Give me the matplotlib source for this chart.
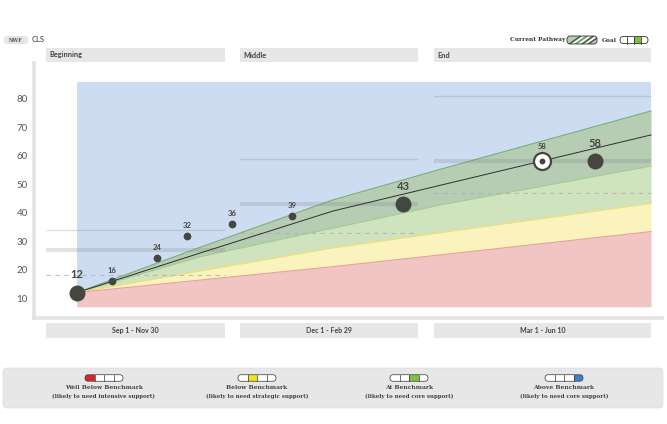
import matplotlib
matplotlib.use('Agg')
import matplotlib.pyplot as plt
from matplotlib.patches import FancyBboxPatch, Rectangle
import matplotlib.transforms as mtransforms

# ---------------- data ----------------
y_ticks = [10, 20, 30, 40, 50, 60, 70, 80]
period_labels = ['Sep 1 - Nov 30', 'Dec 1 - Feb 29', 'Mar 1 - Jun 10']
header_labels = ['Beginning', 'Middle', 'End']
header_segment = [0, 2, 2]
period_start_wk = [-2.2, 11.5, 25.2]
period_end_wk = [10.45, 24.05, 40.5]
bench_above = [34, 59, 81]
bench_at = [27, 43, 58]
bench_below = [18, 33, 47]

score_weeks = [0, 2.5, 5.65, 7.75, 10.95, 15.15, 23.0, 36.55]
score_values = [12, 16, 24, 32, 36, 39, 43, 58]
score_big = [True, False, False, False, False, False, True, True]
goal_week = 32.8
goal_value = 58

band_weeks = [0, 8.7, 18.05, 25.6, 40.5]
red_top = [12, 16.4, 21.1, 25.2, 33.4]
yellow_top = [12, 19.6, 27.7, 33.0, 43.3]
lgreen_top = [12, 24.6, 34.6, 42.7, 56.4]
dgreen_top = [12, 27.9, 44.5, 55.2, 75.7]
pathway = [12, 25.9, 40.6, 49.6, 67.3]
band_floor = 7
band_ceiling = 86

legend_titles = ['Well Below Benchmark', 'Below Benchmark', 'At Benchmark', 'Above Benchmark']
legend_notes = ['(likely to need intensive support)', '(likely to need strategic support)',
                '(likely to need core support)', '(likely to need core support)']
legend_colors = ['#d9262b', '#efe31f', '#7cc142', '#3f7fcb']

# ---------------- layout ----------------
W, H = 667, 424
PX_PER_WK = 14.173
X0_PX = 77
PX_PER_UNIT = 2.851
Y0_PX = 326.8
AX_L, AX_R, AX_T, AX_B = 34, 662, 63, 318

SANS = ['Lato', 'DejaVu Sans']
SLAB = ['DejaVu Serif']
DARK = '#454542'

fig = plt.figure(figsize=(W / 100, H / 100), dpi=100)
fig.patch.set_facecolor('white')

ov = fig.add_axes([0, 0, 1, 1], zorder=0)
ov.set_xlim(0, W)
ov.set_ylim(H, 0)
ov.axis('off')

ax = fig.add_axes([AX_L / W, (H - AX_B) / H, (AX_R - AX_L) / W, (AX_B - AX_T) / H], zorder=1)
ax.set_facecolor('none')
ax.set_xlim((AX_L - X0_PX) / PX_PER_WK, (AX_R - X0_PX) / PX_PER_WK)
ax.set_ylim((Y0_PX - AX_B) / PX_PER_UNIT, (Y0_PX - AX_T) / PX_PER_UNIT)

for s in ['top', 'right']:
    ax.spines[s].set_visible(False)
for s in ['left', 'bottom']:
    ax.spines[s].set_color('#e2e3e2')
    ax.spines[s].set_linewidth(2.6)
ax.set_xticks([])
ax.set_yticks(y_ticks)
ax.tick_params(axis='y', length=0, pad=4.5, labelsize=7, labelcolor='#555555')
for t in ax.get_yticklabels():
    t.set_fontfamily(SANS)

# bands
ax.fill_between([band_weeks[0], band_weeks[-1]], band_floor, band_ceiling, color='#cddcf1', lw=0, zorder=1)
ax.fill_between(band_weeks, lgreen_top, dgreen_top, color='#b6ccb3', lw=0, zorder=2)
ax.fill_between(band_weeks, yellow_top, lgreen_top, color='#d0e3bf', lw=0, zorder=2)
ax.fill_between(band_weeks, red_top, yellow_top, color='#faf3be', lw=0, zorder=2)
ax.fill_between(band_weeks, band_floor, red_top, color='#f2c5c5', lw=0, zorder=2)
ax.plot(band_weeks, dgreen_top, color='#74b071', lw=0.8, zorder=3)
ax.plot(band_weeks, lgreen_top, color='#a3d08b', lw=0.8, zorder=3)
ax.plot(band_weeks, yellow_top, color='#f1e070', lw=0.8, zorder=3)
ax.plot(band_weeks, red_top, color='#ec9d9d', lw=0.8, zorder=3)
ax.plot(band_weeks, pathway, color='#2e2e2e', lw=0.7, zorder=4)

# benchmark lines
for i in range(3):
    xs = [period_start_wk[i], period_end_wk[i]]
    ax.plot(xs, [bench_above[i]] * 2, color='#8a93a0', alpha=0.3, lw=1.0, zorder=3.5, solid_capstyle='butt')
    ax.plot(xs, [bench_at[i]] * 2, color='#7a7f85', alpha=0.22, lw=3.0, zorder=3.5, solid_capstyle='butt')
    ax.plot(xs, [bench_below[i]] * 2, color='#b0b0b0', alpha=0.8, lw=0.8, ls=(0, (4, 4)), zorder=3.5)

# scores
small = [i for i, b in enumerate(score_big) if not b]
big = [i for i, b in enumerate(score_big) if b]
ax.scatter([score_weeks[i] for i in small], [score_values[i] for i in small], s=31, color=DARK, lw=0, zorder=6)
ax.scatter([score_weeks[i] for i in big], [score_values[i] for i in big], s=132, color=DARK, lw=0, zorder=6)
for i, (wk, v) in enumerate(zip(score_weeks, score_values)):
    if score_big[i]:
        ax.annotate(str(v), (wk, v), xytext=(0, 9), textcoords='offset points', ha='center', va='bottom',
                    fontsize=8, fontweight='bold', color=DARK, family=SANS, zorder=7)
    else:
        ax.annotate(str(v), (wk, v), xytext=(0, 5), textcoords='offset points', ha='center', va='bottom',
                    fontsize=5.5, fontweight='bold', color=DARK, family=SANS, zorder=7)

# goal
ax.scatter([goal_week], [goal_value], s=150, facecolor='white', edgecolor=DARK, lw=1.6, zorder=6)
ax.scatter([goal_week], [goal_value], s=18, color=DARK, lw=0, zorder=7)
ax.annotate(str(goal_value), (goal_week, goal_value), xytext=(0, 8), textcoords='offset points',
            ha='center', va='bottom', fontsize=5.5, fontweight='bold', color=DARK, family=SANS, zorder=7)

# header and period bars (x in data, y in axes)
blend = mtransforms.blended_transform_factory(ax.transData, ax.transAxes)
ax_h = AX_B - AX_T


def yfrac(ypx):
    return (AX_B - ypx) / ax_h


def wk2px(wk):
    return X0_PX + wk * PX_PER_WK


def draw_toggle(a, x0, yc, w, h, seg, color, lw=0.6):
    box = FancyBboxPatch((x0, yc - h / 2), w, h, boxstyle=f"round,pad=0,rounding_size={h / 2}",
                         fc='white', ec='none', zorder=5)
    a.add_patch(box)
    sw = w / 4
    if seg is not None:
        r = Rectangle((x0 + seg * sw, yc - h / 2), sw, h, fc=color, ec='none', zorder=6)
        r.set_clip_path(box)
        a.add_patch(r)
    for k in range(1, 4):
        a.plot([x0 + k * sw] * 2, [yc - h / 2, yc + h / 2], color='#333333', lw=lw, zorder=7)
    a.add_patch(FancyBboxPatch((x0, yc - h / 2), w, h, boxstyle=f"round,pad=0,rounding_size={h / 2}",
                               fc='none', ec='#333333', lw=lw, zorder=8))


for i in range(3):
    x0, x1 = period_start_wk[i], period_end_wk[i]
    # header
    ax.add_patch(Rectangle((x0, yfrac(61.7)), x1 - x0, yfrac(48.3) - yfrac(61.7), transform=blend,
                           fc='#e6e7e6', ec='none', clip_on=False, zorder=2))
    ax.text(x0 + 3.5 / PX_PER_WK, yfrac(55), header_labels[i], transform=blend, ha='left', va='center',
            fontsize=5.3, fontweight='bold', color='#444444', family=SANS, clip_on=False)
    draw_toggle(ov, wk2px(x1) - 33, 55, 29, 8, header_segment[i], '#7cc142' if i else '#d9262b')
    # period
    ax.add_patch(Rectangle((x0, yfrac(337.7)), x1 - x0, yfrac(323.3) - yfrac(337.7), transform=blend,
                           fc='#e6e7e6', ec='none', clip_on=False, zorder=2))
    ax.text((x0 + x1) / 2, yfrac(330.5), period_labels[i], transform=blend, ha='center', va='center',
            fontsize=5.0, fontweight='bold', color='#444444', family=SANS, clip_on=False)

# top-left badge
ov.add_patch(FancyBboxPatch((4, 36), 24, 8, boxstyle="round,pad=0,rounding_size=4", fc='#e4e4e4', ec='none'))
ov.text(16, 40.2, 'NWF', ha='center', va='center', fontsize=3.6, fontweight='bold', color='#555555', family=SLAB)
ov.text(32, 40, 'CLS', ha='left', va='center', fontsize=5.5, color='#333333', family=SANS)

# top-right legend
ov.text(565, 40, 'Current Pathway', ha='right', va='center', fontsize=4.2, fontweight='bold', color='#333333', family=SLAB)
pw = FancyBboxPatch((567, 36), 30, 8, boxstyle="round,pad=0,rounding_size=3", fc='#b6ccb3', ec='none', zorder=5)
ov.add_patch(pw)
for k, c in enumerate(['#444444', '#ffffff', '#5a9a58', '#ffffff', '#444444', '#ffffff', '#444444']):
    ln, = ov.plot([568 + k * 3.2, 582 + k * 3.2], [45, 35], color=c, lw=0.9, zorder=6)
    ln.set_clip_path(pw)
ov.add_patch(FancyBboxPatch((567, 36), 30, 8, boxstyle="round,pad=0,rounding_size=3", fc='none', ec='#333333', lw=0.6, zorder=7))
ov.text(617, 40, 'Goal', ha='right', va='center', fontsize=4.2, fontweight='bold', color='#333333', family=SLAB)
draw_toggle(ov, 620, 40, 28, 7, 2, '#7cc142')

# bottom legend panel
ov.add_patch(FancyBboxPatch((3, 368), 660, 40, boxstyle="round,pad=0,rounding_size=4", fc='#e6e7e6', ec='#dcdddc', lw=0.5))
legend_x = [104, 257, 409, 564]
for i in range(4):
    cx = legend_x[i]
    draw_toggle(ov, cx - 19, 378, 38, 6.5, i, legend_colors[i], lw=0.5)
    ov.text(cx, 387.3, legend_titles[i], ha='center', va='center', fontsize=4.3, fontweight='bold',
            color='#444444', family=SLAB)
    ov.text(cx, 396, legend_notes[i], ha='center', va='center', fontsize=4.0, fontweight='bold',
            color='#444444', family=SLAB)

fig.savefig('out.png', dpi=100, facecolor='white')
